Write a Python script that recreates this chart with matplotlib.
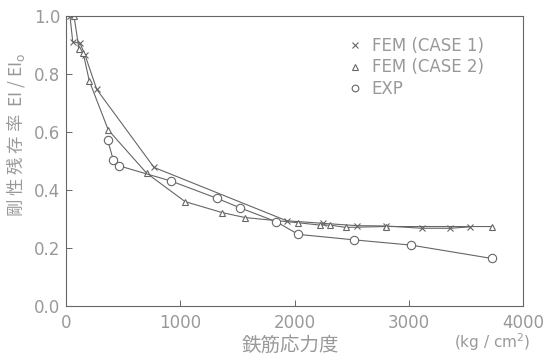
import matplotlib.pyplot as plt

# values
fem1_x = [35, 59, 123, 166, 269, 770, 1931, 2250, 2550, 2800, 3113, 3361, 3536]
fem1_y = [1.0, 0.911, 0.906, 0.866, 0.747, 0.478, 0.294, 0.285, 0.277, 0.276, 0.268, 0.268, 0.273]

fem2_x = [70, 114, 151, 204, 370, 706, 1042, 1368, 1567, 2033, 2223, 2311, 2448, 2798, 3726]
fem2_y = [1.0, 0.885, 0.871, 0.776, 0.607, 0.458, 0.36, 0.322, 0.305, 0.287, 0.279, 0.279, 0.271, 0.274, 0.274]

exp_x = [365, 414, 467, 919, 1324, 1520, 1838, 2033, 2523, 3020, 3726]
exp_y = [0.572, 0.503, 0.483, 0.431, 0.371, 0.339, 0.291, 0.247, 0.228, 0.21, 0.164]

xticks = [0, 1000, 2000, 3000, 4000]
yticks = [0.0, 0.2, 0.4, 0.6, 0.8, 1.0]

col = '#666666'
txt = '#999999'
cjk = ['Noto Sans CJK JP', 'DejaVu Sans']

fig = plt.figure(figsize=(5.46, 3.58), dpi=100)
ax = fig.add_axes([66/546, 1 - 306/358, (523-66)/546, (306-16)/358])

ax.plot(fem1_x, fem1_y, color=col, lw=0.8, marker='x', ms=5, mew=0.8, label='FEM (CASE 1)')
ax.plot(fem2_x, fem2_y, color=col, lw=0.8, marker='^', ms=5, mfc='white', mew=0.8, label='FEM (CASE 2)')
ax.plot(exp_x, exp_y, color=col, lw=0.8, marker='o', ms=6, mfc='white', mew=0.8, label='EXP')

ax.set_xlim(0, 4000)
ax.set_ylim(0, 1.0)
ax.set_xticks(xticks)
ax.set_yticks(yticks)
ax.set_xticklabels([str(t) for t in xticks])
ax.set_yticklabels(['%.1f' % t for t in yticks])
ax.tick_params(direction='in', length=4, width=0.7, color=col, labelcolor=txt, labelsize=12)
ax.tick_params(axis='y', pad=4)
ax.tick_params(axis='x', pad=6)
for s in ax.spines.values():
    s.set_color(col)
    s.set_linewidth(0.8)

leg = ax.legend(loc='upper left', bbox_to_anchor=(0.6, 0.98), frameon=False, fontsize=12,
                handlelength=0, handletextpad=1.0, labelspacing=0.22, markerscale=0.8)
for t in leg.get_texts():
    t.set_color(txt)

fig.text(290/546, 1 - 345/358, '鉄筋応力度', family=cjk, fontsize=14, color=txt, ha='center', va='center')
fig.text(492/546, 1 - 342/358, '(kg / cm$^2$)', fontsize=11, color=txt, ha='center', va='center')
fig.text(16/546, 1 - 135/358, '剛 性 残 存 率  EI / EI$_\\mathrm{o}$', family=cjk, fontsize=12.5, color=txt,
         rotation=90, ha='center', va='center')

plt.savefig('out.png', dpi=100)
